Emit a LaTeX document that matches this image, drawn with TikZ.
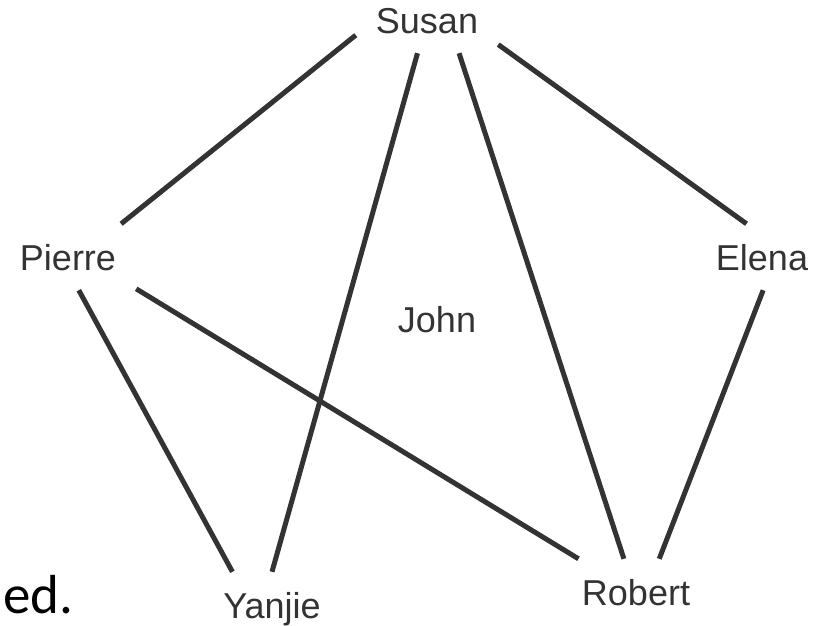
\documentclass[tikz,border=0pt]{standalone}
\usepackage{fontspec}
\setmainfont{Liberation Sans}
\newfontfamily\slidefont{Carlito}
\definecolor{ink}{HTML}{333333}
\tikzset{
  person/.style={font=\fontsize{36}{43}\selectfont, text=ink, inner xsep=20pt, inner ysep=20pt,
    text height=26pt, text depth=0pt, anchor=base},
  tie/.style={ink, line width=5pt},
}

\begin{document}
\begin{tikzpicture}[x=1pt,y=-1pt]
\useasboundingbox (0,0) rectangle (823,625);
% the people
\node[person] (susan) at (427,33) {Susan};
\node[person] (pierre) at (68,270) {Pierre};
\node[person] (elena) at (762,270) {Elena};
\node[person] (john) at (437,332) {John};
\node[person] (robert) at (636,605) {Robert};
\node[person] (yanjie) at (272,618) {Yanjie};
% who knows whom
\draw[tie] (susan.192) -- (pierre.32);
\draw[tie] (susan.254) -- (yanjie.90);
\draw[tie] (susan.314) -- (robert.110);
\draw[tie] (susan.341) -- (elena.115);
\draw[tie] (pierre.288) -- (yanjie.140);
\draw[tie] (pierre.335) -- (robert.150);
\draw[tie] (elena.272) -- (robert.55);
% end of the line of text on the left
\node[anchor=base west, inner sep=0pt, font=\slidefont\fontsize{55}{60}\selectfont] (tail) at (3,613) {ed.};
\end{tikzpicture}
\end{document}
